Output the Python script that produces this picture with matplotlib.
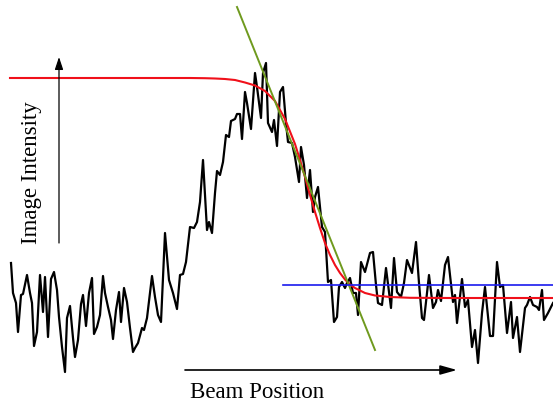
import matplotlib
matplotlib.use("Agg")
import matplotlib.pyplot as plt

# -------------------------------
# Data (pixel-like units, y grows downwards)
# -------------------------------
signal_x = [11, 13, 16, 18, 21, 23, 27, 30, 32, 34, 37, 40, 43, 45, 48, 51, 54, 57, 59, 62,
            65, 67, 70, 73, 75, 78, 81, 83, 86, 89, 92, 94, 97, 100, 103, 105, 108, 111, 113, 116,
            119, 121, 124, 127, 130, 133, 135, 138, 142, 144, 147, 150, 152, 155, 158, 161, 165, 169, 173, 177,
            180, 183, 186, 190, 194, 197, 200, 203, 207, 209, 212, 215, 217, 220, 223, 226, 229, 231, 235, 237,
            240, 242, 245, 247, 251, 255, 257, 261, 263, 266, 268, 272, 274, 277, 280, 283, 286, 288, 292, 295,
            299, 301, 304, 307, 310, 313, 315, 318, 322, 325, 328, 331, 334, 337, 339, 342, 345, 347, 350, 353,
            356, 358, 361, 365, 370, 373, 376, 378, 382, 386, 391, 394, 397, 401, 404, 407, 412, 416, 419, 422,
            424, 429, 433, 436, 438, 441, 445, 448, 453, 455, 457, 462, 465, 468, 472, 475, 478, 482, 485, 490,
            493, 497, 500, 503, 507, 511, 513, 517, 520, 525, 527, 530, 533, 537, 539, 542, 544, 548, 553]
signal_y = [263, 293, 303, 332, 295, 294, 275, 293, 303, 346, 332, 275, 312, 277, 337, 279, 272, 290, 317, 347,
            372, 318, 306, 338, 357, 340, 304, 295, 326, 293, 278, 334, 327, 315, 276, 293, 307, 320, 339, 310,
            292, 322, 288, 302, 328, 352, 348, 343, 328, 330, 318, 293, 276, 297, 315, 322, 233, 280, 293, 309,
            275, 274, 262, 227, 228, 222, 202, 160, 230, 222, 233, 193, 171, 175, 162, 135, 137, 121, 119, 114,
            114, 139, 92, 103, 129, 73, 87, 118, 73, 63, 123, 132, 120, 146, 92, 87, 123, 142, 143, 157,
            182, 147, 165, 198, 170, 212, 197, 187, 227, 232, 282, 280, 322, 317, 287, 282, 288, 283, 278, 293,
            293, 315, 262, 272, 253, 252, 285, 303, 305, 268, 308, 258, 292, 297, 283, 260, 273, 242, 283, 318,
            320, 275, 308, 302, 290, 301, 265, 257, 302, 295, 323, 279, 307, 300, 347, 330, 363, 313, 287, 336,
            336, 262, 287, 285, 333, 302, 338, 317, 352, 308, 305, 297, 305, 307, 310, 290, 320, 313, 303]

# fitted edge (red)
fit_x = [10, 190, 205, 215, 225, 235, 245, 255, 265, 275, 285, 295, 300, 305, 310, 315, 320, 325, 330, 335,
         340, 345, 350, 355, 365, 375, 390, 410, 450, 553]
fit_y = [78, 78, 78.2, 78.5, 79, 80, 82.5, 85.5, 91, 101, 119, 144, 160, 177, 195, 212, 228, 243, 255, 265,
         273, 279.5, 284.5, 288, 293, 295.5, 297, 297.8, 298, 298]

# tangent at the edge (green) and baseline level (blue)
tangent_x = [237, 375]
tangent_y = [7, 350]
level_x = [283, 553]
level_y = [285, 285]

# -------------------------------
# Plot
# -------------------------------
fig = plt.figure(figsize=(5.53, 4.07), dpi=100)
ax = fig.add_axes([0, 0, 1, 1])
ax.set_xlim(0, 553)
ax.set_ylim(407, 0)
ax.axis("off")

ax.plot(fit_x, fit_y, color="#f0101a", lw=1.5, zorder=3)
ax.plot(tangent_x, tangent_y, color="#6f9a1e", lw=1.4, zorder=4)
ax.plot(level_x, level_y, color="#1a1aee", lw=1.2, zorder=4)
ax.plot(signal_x, signal_y, color="black", lw=1.6, zorder=2)

# axis arrows
ax.annotate("", xy=(59, 57), xytext=(59, 243),
            arrowprops=dict(arrowstyle="-|>,head_length=0.75,head_width=0.25",
                            lw=0.9, color="black", shrinkA=0, shrinkB=0))
ax.annotate("", xy=(457, 370), xytext=(185, 370),
            arrowprops=dict(arrowstyle="-|>,head_length=1.0,head_width=0.28",
                            lw=1.2, color="black", shrinkA=0, shrinkB=0))

ax.text(32, 173, "Image Intensity", rotation=90, ha="center", va="center",
        fontsize=16.5, family="Liberation Serif")
ax.text(257, 392, "Beam Position", ha="center", va="center",
        fontsize=16.5, family="Liberation Serif")

fig.savefig("out.png", dpi=100)
